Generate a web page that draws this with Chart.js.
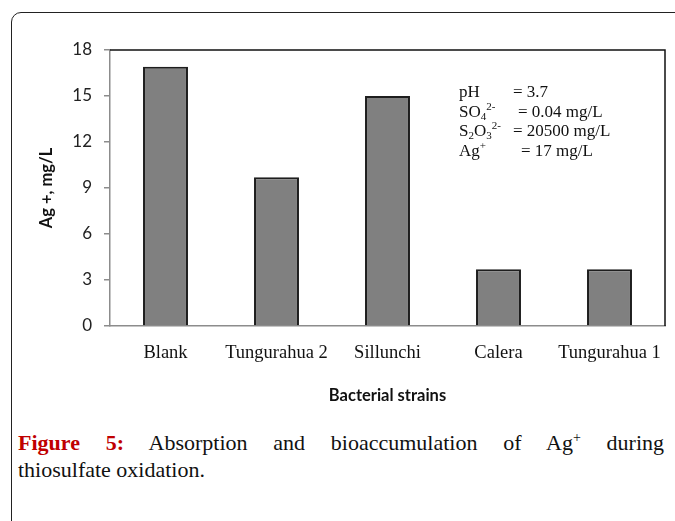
<!DOCTYPE html>
<html>
<head>
<meta charset="utf-8">
<script src="https://cdn.jsdelivr.net/npm/chart.js@4"></script>
<style>
  html, body { margin:0; padding:0; background:#fff; width:675px; height:521px; overflow:hidden; }
  #frame { position:absolute; left:11px; top:12px; width:720px; height:600px; border:1.5px solid #222; border-top-left-radius:10px; box-sizing:border-box; }
  #wrap { position:absolute; left:0; top:0; width:675px; height:420px; }
  #caption { position:absolute; left:18px; top:429px; width:646px; font-family:"Liberation Serif","DejaVu Serif",serif; font-size:22px; line-height:27px; color:#111; }
  #caption .l1 { text-align:justify; text-align-last:justify; }
  #caption b { color:#c00000; }
  sup { font-size:14px; line-height:0; vertical-align:8px; }
</style>
</head>
<body>
<div id="frame"></div>
<div id="wrap"><canvas id="c" width="675" height="420"></canvas></div>
<div id="caption">
  <div class="l1"><b>Figure 5:</b> Absorption and bioaccumulation of Ag<sup>+</sup> during</div>
  <div>thiosulfate oxidation.</div>
</div>
<script>
const categories = ["Blank", "Tungurahua 2", "Sillunchi", "Calera", "Tungurahua 1"];
const agValues = [16.9, 9.7, 15.0, 3.7, 3.7];
const yTicks = [0, 3, 6, 9, 12, 15, 18];
const yTitle = "Ag +, mg/L";
const xTitle = "Bacterial strains";
// annotation lines: parts [text, mode], then value text
const noteLines = [
  { parts: [["pH","n"]], value: "= 3.7", dx: 403 },
  { parts: [["SO","n"],["4","sub"],["2-","sup"]], value: "= 0.04 mg/L", dx: 408 },
  { parts: [["S","n"],["2","sub"],["O","n"],["3","sub"],["2-","sup"]], value: "= 20500 mg/L", dx: 403 },
  { parts: [["Ag","n"],["+","sup"]], value: "= 17 mg/L", dx: 411 }
];

const framePlugin = {
  id: 'framePlugin',
  afterDraw(chart) {
    const ctx = chart.ctx, a = chart.chartArea;
    ctx.save();
    ctx.strokeStyle = '#111';
    ctx.lineWidth = 1.5;
    ctx.beginPath();
    ctx.moveTo(a.left, a.top);
    ctx.lineTo(a.right, a.top);
    ctx.lineTo(a.right, a.bottom);
    ctx.stroke();
    // annotation
    const x0 = a.left + 349;
    let y = a.top + 47;
    const big = '17px "Liberation Serif", "Times New Roman", serif';
    const small = '11px "Liberation Serif", "Times New Roman", serif';
    ctx.fillStyle = '#111';
    ctx.textBaseline = 'alphabetic';
    ctx.textAlign = 'left';
    noteLines.forEach(line => {
      let x = x0;
      line.parts.forEach(([t, m]) => {
        ctx.font = m === 'n' ? big : small;
        const off = m === 'sub' ? 3 : (m === 'sup' ? -7 : 0);
        ctx.fillText(t, x, y + off);
        x += ctx.measureText(t).width;
      });
      ctx.font = big;
      ctx.fillText(line.value, a.left + line.dx, y);
      y += 19.7;
    });
    ctx.restore();
  }
};

new Chart(document.getElementById('c'), {
  type: 'bar',
  data: {
    labels: categories,
    datasets: [{
      data: agValues,
      backgroundColor: '#808080',
      borderColor: '#1e1e1e',
      borderWidth: 2,
      categoryPercentage: 1.0,
      barPercentage: 0.405
    }]
  },
  options: {
    responsive: false,
    animation: false,
    layout: { padding: { top: 50, left: 33, right: 10, bottom: 10 } },
    plugins: { legend: { display: false }, tooltip: { enabled: false } },
    scales: {
      x: {
        grid: { display: false },
        border: { display: true, color: '#8c8c8c', width: 1.5 },
        ticks: { color: '#111', padding: 8, maxRotation: 0, minRotation: 0, autoSkip: false, font: { family: '"Liberation Serif", "Times New Roman", serif', size: 18.5 } },
        title: { display: true, text: xTitle, color: '#111', font: { family: 'Lato, "Open Sans", sans-serif', size: 16.5, weight: 'bold' } },
        afterFit(s) { s.height = 84; }
      },
      y: {
        min: 0, max: 18,
        afterBuildTicks(s) { s.ticks = yTicks.map(v => ({ value: v })); },
        grid: { drawOnChartArea: false, drawTicks: true, tickLength: 6, color: '#8c8c8c', lineWidth: 1.5 },
        border: { display: true, color: '#8c8c8c', width: 1.5 },
        ticks: { color: '#222', padding: 12, font: { family: 'Lato, "Open Sans", sans-serif', size: 17 } },
        title: { display: true, text: yTitle, color: '#111', font: { family: 'Lato, "Open Sans", sans-serif', size: 16.5, weight: 'bold' } },
        afterFit(s) { s.width = 77; }
      }
    }
  },
  plugins: [framePlugin]
});
</script>
</body>
</html>
